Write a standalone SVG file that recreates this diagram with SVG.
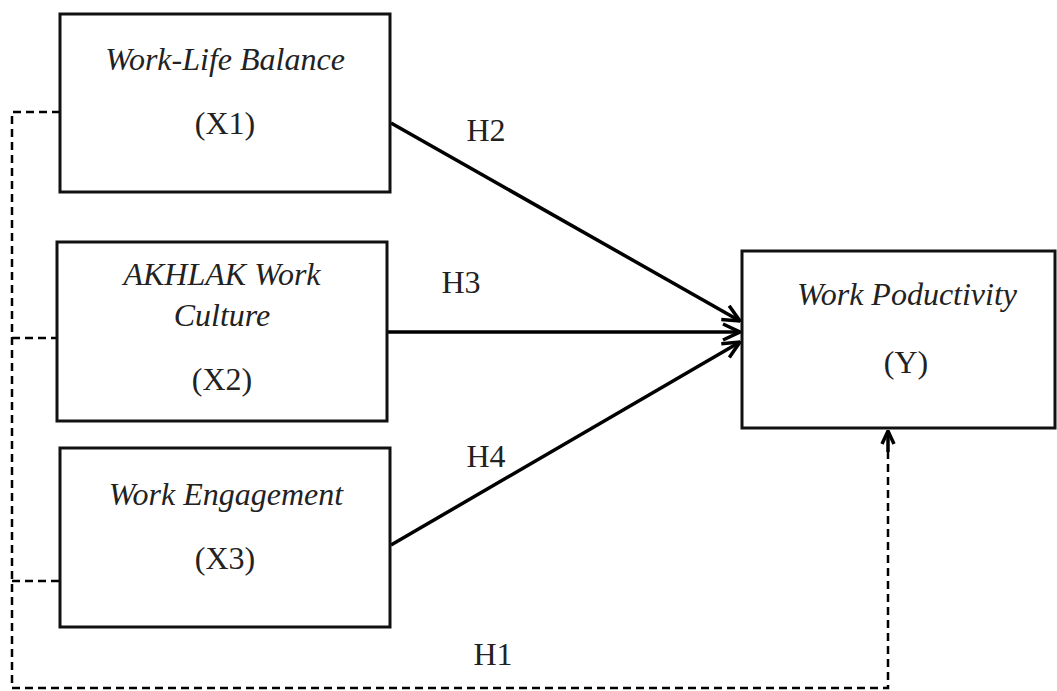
<svg xmlns="http://www.w3.org/2000/svg" width="1057" height="691" viewBox="0 0 1057 691">
<style>
.box{fill:#fff;stroke:#111;stroke-width:3}
.t{font-family:"Liberation Serif","Times New Roman",serif;font-size:32px;fill:#222;text-anchor:middle}
.i{font-style:italic}
.solid{stroke:#000;stroke-width:3.5;fill:none}
.dash{stroke:#000;stroke-width:2.5;fill:none;stroke-dasharray:8 5}
</style>
<defs>
<marker id="ah" viewBox="0 0 20 20" refX="19" refY="10" markerWidth="20" markerHeight="20" markerUnits="userSpaceOnUse" orient="auto">
<path d="M2,2 L19,10 L2,18" fill="none" stroke="#000" stroke-width="3.5"/>
</marker>
<marker id="ah2" viewBox="0 0 16 16" refX="15" refY="8" markerWidth="16" markerHeight="16" markerUnits="userSpaceOnUse" orient="auto">
<path d="M2,2 L15,8 L2,14" fill="none" stroke="#000" stroke-width="3.5"/>
</marker>
</defs>
<rect width="1057" height="691" fill="#fff"/>
<g id="connectors">
<line class="solid" x1="391" y1="123" x2="740" y2="321" marker-end="url(#ah)"/>
<line class="solid" x1="388" y1="332" x2="740" y2="332" marker-end="url(#ah)"/>
<line class="solid" x1="391" y1="545" x2="740" y2="342" marker-end="url(#ah)"/>
<path class="dash" d="M60,112 H12 V688 H888 V450"/>
<line x1="12" y1="338" x2="57" y2="338" class="dash"/>
<line x1="12" y1="581" x2="60" y2="581" class="dash"/>
<line class="solid" x1="888" y1="452" x2="888" y2="431" marker-end="url(#ah2)"/>
<text class="t" x="486" y="141">H2</text>
<text class="t" x="461" y="293">H3</text>
<text class="t" x="486" y="467">H4</text>
<text class="t" x="493" y="665">H1</text>
</g>
<g id="x1">
<rect class="box" x="60" y="14" width="330" height="178"/>
<text class="t i" x="225" y="70">Work-Life Balance</text>
<text class="t" x="225" y="134">(X1)</text>
</g>
<g id="x2">
<rect class="box" x="57" y="242" width="330" height="179"/>
<text class="t i" x="222" y="285">AKHLAK Work</text>
<text class="t i" x="222" y="326">Culture</text>
<text class="t" x="222" y="390">(X2)</text>
</g>
<g id="x3">
<rect class="box" x="60" y="448" width="330" height="179"/>
<text class="t i" x="226" y="505">Work Engagement</text>
<text class="t" x="225" y="569">(X3)</text>
</g>
<g id="y">
<rect class="box" x="742" y="251" width="313" height="177"/>
<text class="t i" x="907" y="305">Work Poductivity</text>
<text class="t" x="906" y="373">(Y)</text>
</g>
</svg>
